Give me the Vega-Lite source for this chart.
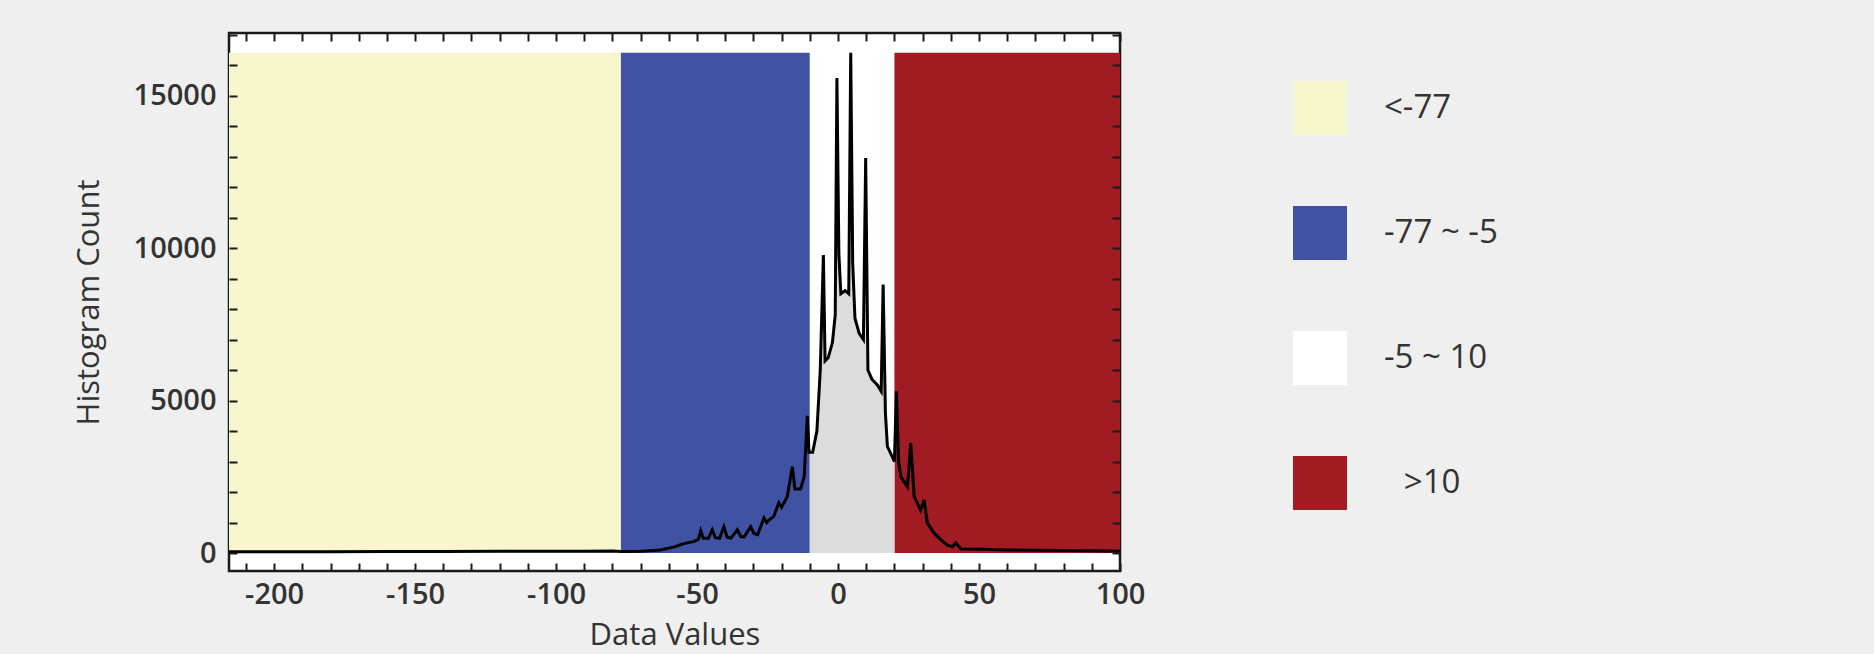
{
  "$schema": "https://vega.github.io/schema/vega-lite/v6.json",
  "width": 891,
  "height": 538,
  "autosize": {"type": "none"},
  "padding": {"left": 229, "top": 33, "right": 754, "bottom": 83},
  "background": "#efefef",
  "config": {
    "view": {"fill": "white", "stroke": "#1a1a1a", "strokeWidth": 2.5},
    "axis": {
      "domain": false, "ticks": true, "offset": -8,
      "tickColor": "#1a1a1a", "tickWidth": 2, "tickSize": 8,
      "labelFont": "Open Sans", "labelFontSize": 29, "labelFontWeight": 600, "labelColor": "#333",
      "titleFont": "Open Sans", "titleFontSize": 31, "titleFontWeight": "normal", "titleColor": "#333",
      "grid": false
    }
  },
  "datasets": {
    "bands": [
      {"lo": -216, "hi": -77, "range": "<-77"},
      {"lo": -77, "hi": -10, "range": "-77 ~ -5"},
      {"lo": -10, "hi": 20, "range": "-5 ~ 10"},
      {"lo": 20, "hi": 100, "range": ">10"}
    ],
    "hist": [
      {"v": -216, "count": 40}, {"v": -200, "count": 40}, {"v": -180, "count": 45}, {"v": -160, "count": 50},
      {"v": -140, "count": 50}, {"v": -120, "count": 55}, {"v": -100, "count": 60}, {"v": -90, "count": 60},
      {"v": -80, "count": 65}, {"v": -77, "count": 50}, {"v": -70, "count": 60}, {"v": -63, "count": 100},
      {"v": -58, "count": 200}, {"v": -55, "count": 300}, {"v": -53, "count": 340}, {"v": -51, "count": 380},
      {"v": -49.5, "count": 450}, {"v": -48.7, "count": 730}, {"v": -47.8, "count": 480}, {"v": -46, "count": 480},
      {"v": -44.6, "count": 760}, {"v": -43.5, "count": 500}, {"v": -42, "count": 480}, {"v": -40.5, "count": 860},
      {"v": -39.3, "count": 520}, {"v": -38, "count": 490}, {"v": -35.7, "count": 760}, {"v": -34.5, "count": 540},
      {"v": -33.3, "count": 530}, {"v": -31, "count": 860}, {"v": -29.8, "count": 640}, {"v": -28.5, "count": 600},
      {"v": -26.3, "count": 1150}, {"v": -25.3, "count": 1000}, {"v": -24.5, "count": 1080}, {"v": -22.8, "count": 1200},
      {"v": -21, "count": 1650}, {"v": -20, "count": 1500}, {"v": -18, "count": 1850}, {"v": -16.2, "count": 2830},
      {"v": -15.3, "count": 2100}, {"v": -13.3, "count": 2100}, {"v": -12, "count": 2500}, {"v": -10.9, "count": 4500},
      {"v": -10.3, "count": 3300}, {"v": -10, "count": 3300}, {"v": -9, "count": 3300}, {"v": -7.5, "count": 4000},
      {"v": -6.3, "count": 6000}, {"v": -5.2, "count": 9770}, {"v": -4.6, "count": 6300}, {"v": -3.5, "count": 6400},
      {"v": -2, "count": 6900}, {"v": -1, "count": 7800}, {"v": -0.4, "count": 15575}, {"v": 0.3, "count": 9800},
      {"v": 1, "count": 8500}, {"v": 2.5, "count": 8600}, {"v": 3.8, "count": 8500}, {"v": 4.5, "count": 16400},
      {"v": 5.2, "count": 9500}, {"v": 6, "count": 7700}, {"v": 7.5, "count": 7200}, {"v": 9, "count": 7000},
      {"v": 9.8, "count": 12950}, {"v": 10.6, "count": 6000}, {"v": 12, "count": 5700}, {"v": 14, "count": 5500},
      {"v": 15.3, "count": 5300}, {"v": 16, "count": 8800}, {"v": 16.8, "count": 4600}, {"v": 17.5, "count": 3500},
      {"v": 19, "count": 3200}, {"v": 20, "count": 3000}, {"v": 20.7, "count": 5300}, {"v": 21.5, "count": 3000},
      {"v": 22.3, "count": 2500}, {"v": 24.6, "count": 2170}, {"v": 25.8, "count": 3600}, {"v": 27, "count": 1850},
      {"v": 29.3, "count": 1410}, {"v": 30.5, "count": 1740}, {"v": 31.7, "count": 980}, {"v": 34.1, "count": 650},
      {"v": 36.5, "count": 430}, {"v": 38.8, "count": 260}, {"v": 40.6, "count": 210}, {"v": 41.8, "count": 330},
      {"v": 43.6, "count": 130}, {"v": 50.7, "count": 120}, {"v": 60, "count": 100}, {"v": 70, "count": 90},
      {"v": 80, "count": 80}, {"v": 90, "count": 70}, {"v": 100, "count": 60}
    ]
  },
  "layer": [
    {
      "data": {"name": "bands"},
      "mark": {"type": "rect", "opacity": 1},
      "encoding": {
        "x": {"field": "lo", "type": "quantitative", "scale": {"domain": [-216, 100], "nice": false, "zero": false},
          "axis": {"orient": "bottom", "title": "Data Values", "titlePadding": 11, "zindex": 1,
            "values": [-210,-200,-190,-180,-170,-160,-150,-140,-130,-120,-110,-100,-90,-80,-70,-60,-50,-40,-30,-20,-10,0,10,20,30,40,50,60,70,80,90,100],
            "labelExpr": "datum.value % 50 === 0 ? '' + datum.value : ''",
            "labelPadding": 9, "labelFlush": false, "labelOverlap": false}},
        "x2": {"field": "hi"},
        "y": {"datum": 0, "type": "quantitative", "scale": {"domain": [-590, 17050], "nice": false, "zero": false},
          "axis": {"orient": "left", "title": "Histogram Count", "titlePadding": 28, "zindex": 1,
            "values": [0,1000,2000,3000,4000,5000,6000,7000,8000,9000,10000,11000,12000,13000,14000,15000,16000,17000],
            "labelExpr": "datum.value % 5000 === 0 ? '' + datum.value : ''",
            "labelPadding": 13, "labelOverlap": false}},
        "y2": {"datum": 16400},
        "color": {"field": "range", "type": "nominal",
          "scale": {"domain": ["<-77", "-77 ~ -5", "-5 ~ 10", ">10"], "range": ["#f8f6cc", "#3f52a3", "#ffffff", "#a01c22"]},
          "legend": {"orient": "none", "legendX": 1064, "legendY": 48, "title": null, "padding": 0,
            "symbolType": "square", "symbolSize": 2916, "symbolStrokeWidth": 0, "symbolOpacity": 1,
            "labelFont": "Open Sans", "labelFontSize": 33, "labelColor": "#333", "labelOffset": 37, "rowPadding": 71,
            "labelExpr": "datum.index === 3 ? '\u200b\u2002\u200a' + datum.label : datum.label"}}
      }
    },
    {
      "data": {"name": "hist"},
      "transform": [{"filter": "datum.v >= -10 && datum.v <= 20"}],
      "mark": {"type": "area", "color": "#dcdcdc"},
      "encoding": {
        "x": {"field": "v", "type": "quantitative", "axis": null},
        "y": {"field": "count", "type": "quantitative", "axis": null}
      }
    },
    {
      "data": {"name": "hist"},
      "mark": {"type": "line", "color": "#000000", "strokeWidth": 3, "strokeJoin": "miter"},
      "encoding": {
        "x": {"field": "v", "type": "quantitative",
          "axis": {"orient": "top", "title": null, "labels": false, "zindex": 1,
            "values": [-210,-200,-190,-180,-170,-160,-150,-140,-130,-120,-110,-100,-90,-80,-70,-60,-50,-40,-30,-20,-10,0,10,20,30,40,50,60,70,80,90,100]}},
        "y": {"field": "count", "type": "quantitative",
          "axis": {"orient": "right", "title": null, "labels": false, "zindex": 1,
            "values": [0,1000,2000,3000,4000,5000,6000,7000,8000,9000,10000,11000,12000,13000,14000,15000,16000,17000]}}
      }
    }
  ],
  "resolve": {"axis": {"x": "independent", "y": "independent"}}
}
